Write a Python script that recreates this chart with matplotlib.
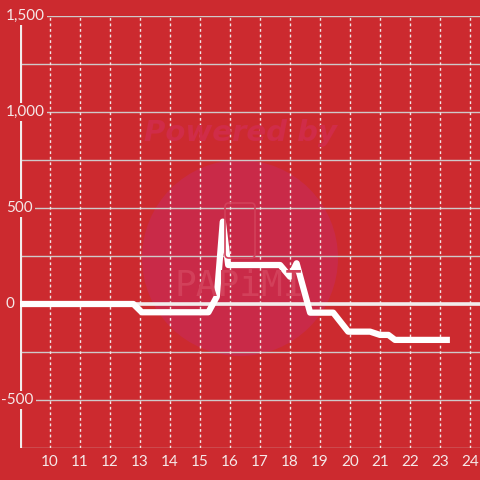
import matplotlib.pyplot as plt
from matplotlib.patches import Circle, FancyBboxPatch

BG = "#cc2a2f"

# data
hours = [9.0, 12.78, 13.06, 15.28, 15.56, 15.76, 15.94, 17.67, 18.0, 18.22,
         18.67, 19.44, 19.94, 20.67, 21.0, 21.28, 21.5, 23.33]
values = [0, 0, -43, -43, 38, 429, 203, 203, 142, 212,
          -45, -45, -144, -144, -161, -161, -187, -187]
x_ticks = list(range(10, 25))
y_labels = [1500, 1000, 500, 0, -500]

plt.rcParams["font.family"] = ["Lato", "DejaVu Sans"]

fig = plt.figure(figsize=(4.8, 4.8), dpi=100, facecolor=BG)
ax = fig.add_axes([20 / 480, 1 - 448 / 480, 460 / 480, 432 / 480])
ax.set_facecolor(BG)
ax.set_xlim(9, 9 + 460 / 30)
ax.set_ylim(-750, 1500)
for s in ax.spines.values():
    s.set_visible(False)
ax.tick_params(length=0, labelleft=False)

# watermark
ax.add_patch(Circle((240 / 480, 1 - 258 / 480), 98 / 480, transform=fig.transFigure,
                    facecolor="#c92a48", edgecolor="none", zorder=0))
fig.text(240 / 480, 1 - 133 / 480, "Powered by", ha="center", va="center",
         fontsize=21, fontweight="bold", style="italic", color="#d02c48",
         family="DejaVu Sans", zorder=0)
fig.text(240 / 480, 1 - 286 / 480, "PAPiMI", ha="center", va="center",
         fontsize=26, color="#d2405a", family="DejaVu Sans Mono", zorder=0.5)
fig.patches.append(FancyBboxPatch((225 / 480, 1 - 258 / 480), 30 / 480, 55 / 480,
                                  boxstyle="round,pad=0,rounding_size=0.008",
                                  transform=fig.transFigure, facecolor="none",
                                  edgecolor="#d2405a", linewidth=1.2, zorder=0.5))

for yv in range(-750, 1501, 250):
    ax.axhline(yv, color="#cfc9c9", linewidth=1, zorder=1)
for xv in x_ticks:
    ax.axvline(xv, color="#f2e6e6", linewidth=1, linestyle=(0, (2, 2)), zorder=1)

ax.axhline(0, color="#f2ecec", linewidth=2.6, zorder=2)
ax.axvline(9, ymin=0, ymax=0.985, color="#f2ecec", linewidth=3, zorder=2)

ax.plot(hours, values, color="white", linewidth=4.5, solid_joinstyle="round",
        solid_capstyle="butt", zorder=3)

ax.set_xticks(x_ticks)
ax.set_xticklabels([str(v) for v in x_ticks], color="#f5e8e8", fontsize=11)
ax.tick_params(axis="x", pad=5)

for v in y_labels:
    ax.text(9 - 14 / 30 if v >= 0 else 9 - 19 / 30, v, f"{v:,}", ha="left",
            va="center", fontsize=11, color="#f5e8e8", zorder=4,
            bbox=dict(facecolor=BG, edgecolor="none", pad=1.5))

fig.savefig("out.png", dpi=100, facecolor=BG)
